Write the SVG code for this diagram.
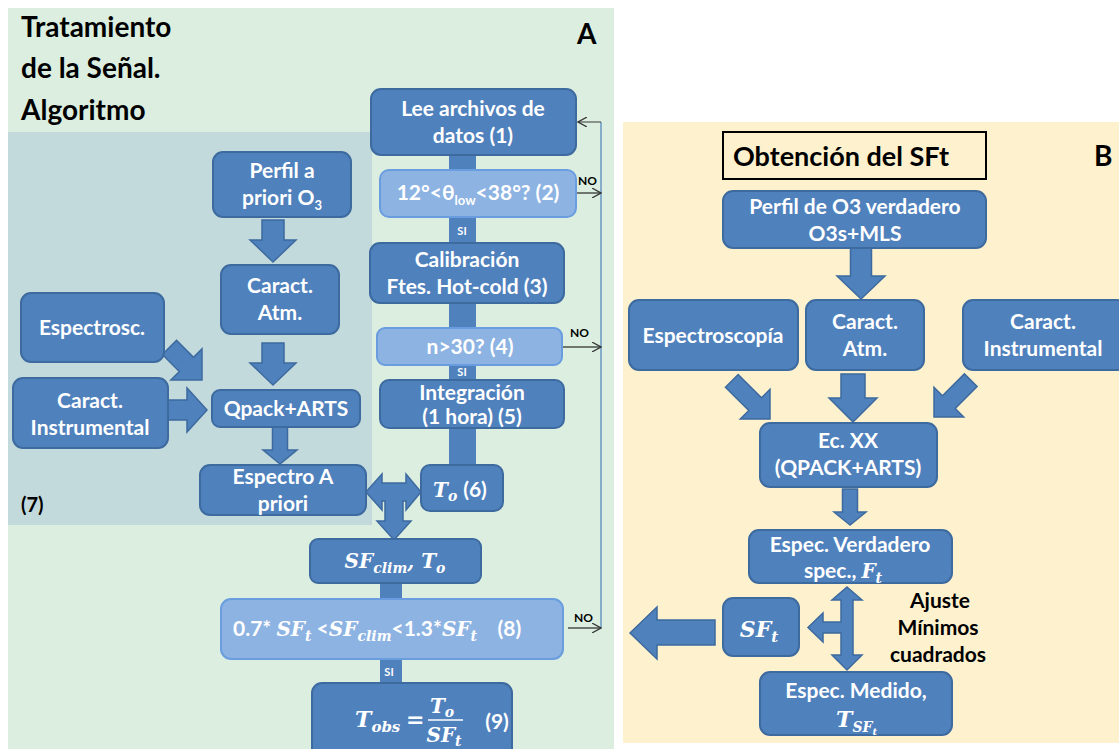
<svg xmlns="http://www.w3.org/2000/svg" width="1119" height="749" viewBox="0 0 1119 749">
<defs>
<style>
.bg{fill:#ffffff}
.pa{fill:#dbeedf}
.pi{fill:#c3dadc}
.pb{fill:#fef1cd}
.n{fill:#4f81bd;stroke:#3d6a9f;stroke-width:2}
.l{fill:#8db3e2;stroke:#6a9ddf;stroke-width:2}
.bar{fill:#4f81bd}
.ar{fill:#4f81bd;stroke:#3d6a9f;stroke-width:1.5}
.t{font-family:Lato,"Open Sans",sans-serif;font-weight:bold;font-size:21px;fill:#ffffff;text-anchor:middle}
.ts{font-family:Lato,"Open Sans",sans-serif;font-weight:bold;font-size:21px;fill:#ffffff}
.m{font-family:"DejaVu Serif","Liberation Serif",serif;font-style:italic;font-weight:bold;fill:#ffffff}
.k{font-family:Lato,"Open Sans",sans-serif;font-weight:bold;fill:#000000}
.si{font-family:Lato,"Open Sans",sans-serif;font-weight:bold;font-size:11px;fill:#ffffff;text-anchor:middle}
.no{font-family:Lato,"Open Sans",sans-serif;font-weight:bold;font-size:12px;fill:#000000}
.ln{fill:none;stroke:#000000;stroke-width:1}
</style>
<marker id="open" viewBox="0 0 10 10" refX="9" refY="5" markerWidth="10" markerHeight="10" markerUnits="userSpaceOnUse" orient="auto">
<path d="M0,0 L9,5 L0,10" fill="none" stroke="#333333" stroke-width="1.2"/>
</marker>
</defs>
<rect class="bg" x="0" y="0" width="1119" height="749"/>
<rect class="pa" x="8" y="8" width="606" height="741"/>
<rect class="pi" x="8" y="132" width="364" height="393"/>
<rect class="pb" x="623" y="122" width="496" height="621"/>

<g id="titleA">
<text class="k" font-size="28" x="21" y="37">Tratamiento</text>
<text class="k" font-size="28" x="21" y="78">de la Señal.</text>
<text class="k" font-size="28" x="21" y="120">Algoritmo</text>
<text class="k" font-size="28" x="577" y="44">A</text>
</g>
<g id="label7"><text class="k" font-size="20" x="21" y="512">(7)</text></g>

<g id="connectors">
<rect class="bar" x="449" y="154" width="27" height="18"/>
<rect class="bar" x="449" y="216" width="27" height="28"/>
<rect class="bar" x="449" y="302" width="27" height="27"/>
<rect class="bar" x="449" y="364" width="27" height="17"/>
<rect class="bar" x="449" y="427" width="27" height="39"/>
<rect class="bar" x="380" y="582" width="22" height="18"/>
<rect class="bar" x="380" y="658" width="22" height="26"/>
<text class="si" x="462" y="235">SI</text>
<text class="si" x="462" y="376">SI</text>
<text class="si" x="389" y="676">SI</text>
<line x1="601" y1="122" x2="601" y2="628" stroke="#4f81bd" stroke-width="1.2"/>
<line x1="601" y1="122" x2="578" y2="122" stroke="#555555" stroke-width="1.2" marker-end="url(#open)"/>
<line class="ln" x1="576" y1="193" x2="601" y2="193" marker-end="url(#open)"/>
<line class="ln" x1="563" y1="347" x2="601" y2="347" marker-end="url(#open)"/>
<line class="ln" x1="568" y1="628" x2="601" y2="628" marker-end="url(#open)"/>
<text class="no" x="578" y="185">NO</text>
<text class="no" x="570" y="337">NO</text>
<text class="no" x="574" y="622">NO</text>
<path class="ar" transform="translate(273,262)" d="M0,0 L-23,-22 L-11,-22 L-11,-42 L11,-42 L11,-22 L23,-22 Z"/>
<path class="ar" transform="translate(273,385)" d="M0,0 L-23,-22 L-11,-22 L-11,-42 L11,-42 L11,-22 L23,-22 Z"/>
<path class="ar" transform="translate(280,464)" d="M0,0 L-17,-14 L-7.5,-14 L-7.5,-37 L7.5,-37 L7.5,-14 L17,-14 Z"/>
<path class="ar" transform="translate(202,380) rotate(-45)" d="M0,0 L-22,-22 L-10,-22 L-10,-46 L10,-46 L10,-22 L22,-22 Z"/>
<path class="ar" transform="translate(207,410) rotate(-90)" d="M0,0 L-22,-20 L-10,-20 L-10,-39 L10,-39 L10,-20 L22,-20 Z"/>
<path class="ar" d="M366,492 L382,474 L382,483 L406,483 L406,474 L421,492 L406,510 L406,501 L403,501 L403,521 L411,521 L394,540 L377,521 L385,521 L385,501 L382,501 L382,510 Z"/>
<path class="ar" transform="translate(861,299)" d="M0,0 L-24,-23 L-10.5,-23 L-10.5,-51 L10.5,-51 L10.5,-23 L24,-23 Z"/>
<path class="ar" transform="translate(853,422)" d="M0,0 L-24,-24 L-12,-24 L-12,-48 L12,-48 L12,-24 L24,-24 Z"/>
<path class="ar" transform="translate(850,525)" d="M0,0 L-16,-13 L-7.5,-13 L-7.5,-36 L7.5,-36 L7.5,-13 L16,-13 Z"/>
<path class="ar" transform="translate(770,419) rotate(-45)" d="M0,0 L-21,-21 L-9,-21 L-9,-54 L9,-54 L9,-21 L21,-21 Z"/>
<path class="ar" transform="translate(934,417) rotate(45)" d="M0,0 L-21,-21 L-9,-21 L-9,-52 L9,-52 L9,-21 L21,-21 Z"/>
<path class="ar" d="M847,587 L862,600 L853,600 L853,655 L862,655 L847,670 L832,655 L841,655 L841,633 L823,633 L823,642 L808,627.5 L823,613 L823,622 L841,622 L841,600 L832,600 Z"/>
<path class="ar" d="M630,633 L657,607 L657,620 L715,620 L715,645 L657,645 L657,659 Z"/>
</g>

<g id="n1"><rect class="n" x="371" y="89" width="205" height="66" rx="10"/>
<text class="t" x="473" y="116">Lee archivos de</text><text class="t" x="473" y="143">datos (1)</text></g>
<g id="n2"><rect class="l" x="380" y="170" width="196" height="47" rx="9"/>
<text class="t" x="478" y="200">12°&lt;θ<tspan font-size="13" dy="5">low</tspan><tspan dy="-5">&lt;38°? (2)</tspan></text></g>
<g id="n3"><rect class="n" x="370" y="243" width="194" height="60" rx="10"/>
<text class="t" x="467" y="267">Calibración</text><text class="t" x="467" y="294">Ftes. Hot-cold (3)</text></g>
<g id="n4"><rect class="l" x="377" y="328" width="185" height="37" rx="8"/>
<text class="t" x="470" y="354">n&gt;30? (4)</text></g>
<g id="n5"><rect class="n" x="380" y="380" width="184" height="48" rx="9"/>
<text class="t" x="472" y="400">Integración</text><text class="t" x="472" y="424">(1 hora) (5)</text></g>
<g id="n6"><rect class="n" x="421" y="465" width="82" height="46" rx="9"/>
<text class="m" font-size="20" x="433" y="497">T<tspan font-size="14" dy="4">o</tspan></text>
<text class="t" x="475" y="497">(6)</text></g>
<g id="perfilApriori"><rect class="n" x="213" y="152" width="138" height="65" rx="10"/>
<text class="t" x="282" y="178">Perfil a</text><text class="t" x="282" y="205">priori O<tspan font-size="13" dy="5">3</tspan></text></g>
<g id="caractAtmA"><rect class="n" x="221" y="265" width="118" height="69" rx="10"/>
<text class="t" x="280" y="293">Caract.</text><text class="t" x="280" y="320">Atm.</text></g>
<g id="qpackA"><rect class="n" x="212" y="390" width="148" height="37" rx="8"/>
<text class="t" x="286" y="416">Qpack+ARTS</text></g>
<g id="espectroscA"><rect class="n" x="21" y="293" width="143" height="69" rx="10"/>
<text class="t" x="92" y="335">Espectrosc.</text></g>
<g id="instrA"><rect class="n" x="13" y="378" width="155" height="70" rx="10"/>
<text class="t" x="90" y="408">Caract.</text><text class="t" x="90" y="435">Instrumental</text></g>
<g id="espectroApriori"><rect class="n" x="200" y="465" width="166" height="50" rx="10"/>
<text class="t" x="283" y="484">Espectro A</text><text class="t" x="283" y="511">priori</text></g>
<g id="sfclim"><rect class="n" x="310" y="539" width="171" height="44" rx="8"/>
<text class="m" font-size="20" x="395" y="568" text-anchor="middle">SF<tspan font-size="14" dy="5">clim</tspan><tspan dy="-5">, T</tspan><tspan font-size="14" dy="5">o</tspan></text></g>
<g id="n8"><rect class="l" x="221" y="599" width="342" height="60" rx="10"/>
<text class="ts" x="233" y="636">0.7* <tspan class="m" font-size="20">SF</tspan><tspan class="m" font-size="14" dy="5">t</tspan><tspan dy="-5"> &lt;</tspan><tspan class="m" font-size="20">SF</tspan><tspan class="m" font-size="14" dy="5">clim</tspan><tspan dy="-5">&lt;1.3*</tspan><tspan class="m" font-size="20">SF</tspan><tspan class="m" font-size="14" dy="5">t</tspan><tspan dy="-5" xml:space="preserve">    (8)</tspan></text></g>
<g id="n9"><rect class="n" x="312" y="683" width="200" height="80" rx="10"/>
<text class="m" font-size="22" x="355" y="727">T<tspan font-size="15" dy="5">obs</tspan></text>
<text class="m" font-size="22" x="406" y="727" font-style="normal">=</text>
<text class="m" font-size="20" x="442" y="713" text-anchor="middle">T<tspan font-size="14" dy="4">o</tspan></text>
<line x1="428" y1="720" x2="463" y2="720" stroke="#ffffff" stroke-width="1.5"/>
<text class="m" font-size="20" x="444" y="742" text-anchor="middle">SF<tspan font-size="14" dy="4">t</tspan></text>
<text class="t" x="497" y="729">(9)</text></g>

<g id="titleB">
<rect x="723" y="132" width="263" height="47" fill="none" stroke="#000000" stroke-width="2"/>
<text class="k" font-size="27" x="733" y="166">Obtención del SFt</text>
<text class="k" font-size="28" x="1094" y="166">B</text>
</g>
<g id="perfilB"><rect class="n" x="723" y="191" width="263" height="57" rx="10"/>
<text class="t" x="855" y="214">Perfil de O3 verdadero</text><text class="t" x="855" y="241">O3s+MLS</text></g>
<g id="espectroscopiaB"><rect class="n" x="629" y="300" width="169" height="70" rx="10"/>
<text class="t" x="713" y="343">Espectroscopía</text></g>
<g id="caractAtmB"><rect class="n" x="806" y="300" width="118" height="70" rx="10"/>
<text class="t" x="865" y="329">Caract.</text><text class="t" x="865" y="356">Atm.</text></g>
<g id="instrB"><rect class="n" x="963" y="300" width="164" height="70" rx="10"/>
<text class="t" x="1043" y="329">Caract.</text><text class="t" x="1043" y="356">Instrumental</text></g>
<g id="ecxx"><rect class="n" x="760" y="423" width="177" height="64" rx="10"/>
<text class="t" x="848" y="448">Ec. XX</text><text class="t" x="848" y="475">(QPACK+ARTS)</text></g>
<g id="especVerdadero"><rect class="n" x="749" y="530" width="203" height="53" rx="10"/>
<text class="t" x="850" y="552">Espec. Verdadero</text>
<text class="t" x="843" y="578">spec., <tspan class="m" font-size="20">F</tspan><tspan class="m" font-size="14" dy="5">t</tspan></text></g>
<g id="sft"><rect class="n" x="723" y="598" width="76" height="58" rx="10"/>
<text class="m" font-size="22" x="759" y="637" text-anchor="middle">SF<tspan font-size="15" dy="5">t</tspan></text></g>
<g id="ajuste">
<text class="k" font-size="21" x="940" y="608" text-anchor="middle">Ajuste</text>
<text class="k" font-size="21" x="938" y="635" text-anchor="middle">Mínimos</text>
<text class="k" font-size="21" x="938" y="662" text-anchor="middle">cuadrados</text>
</g>
<g id="especMedido"><rect class="n" x="760" y="672" width="192" height="63" rx="10"/>
<text class="t" x="856" y="698">Espec. Medido,</text>
<text class="m" font-size="22" x="836" y="727">T<tspan font-size="14" dy="5">SF</tspan><tspan font-size="10" dy="3">t</tspan></text></g>
</svg>
